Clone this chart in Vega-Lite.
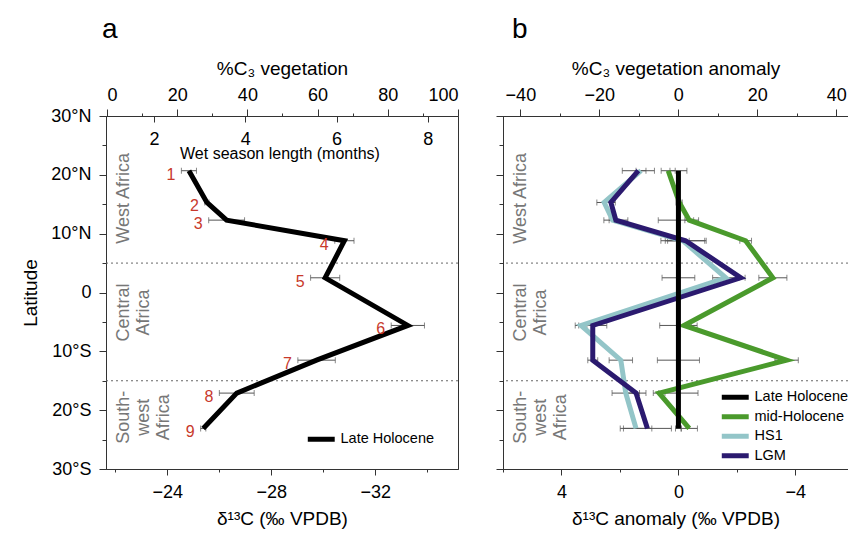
{
  "$schema": "https://vega.github.io/schema/vega-lite/v6.json",
  "padding": {"left": 21, "top": 15, "right": 0, "bottom": 0},
  "background": "white",
  "config": {
    "font": "Liberation Sans",
    "view": {"stroke": "#333", "strokeWidth": 1},
    "axis": {"domainColor": "#333", "tickColor": "#333", "labelColor": "#000", "labelFontSize": 18, "titleFontSize": 19, "titleFontWeight": "normal", "titleColor": "#000", "grid": false, "tickWidth": 1, "domainWidth": 1},
    "legend": {"labelFontSize": 14.5, "labelColor": "#000"}
  },
  "datasets": {
    "sites": [
      {"site": 1, "lat": 20.7, "d13C": -24.83, "err": 0.29},
      {"site": 2, "lat": 15.3, "d13C": -25.52, "err": 0.08},
      {"site": 3, "lat": 12.3, "d13C": -26.28, "err": 0.69},
      {"site": 4, "lat": 8.8, "d13C": -30.81, "err": 0.37},
      {"site": 5, "lat": 2.5, "d13C": -30.07, "err": 0.56},
      {"site": 6, "lat": -5.6, "d13C": -33.25, "err": 0.64},
      {"site": 7, "lat": -11.5, "d13C": -29.74, "err": 0.72},
      {"site": 8, "lat": -17.1, "d13C": -26.67, "err": 0.67},
      {"site": 9, "lat": -23.1, "d13C": -25.38, "err": 0.1}
    ],
    "anom": [
      {"series": "HS1", "site": 1, "lat": 20.7, "d": 1.28, "err": 0.17},
      {"series": "HS1", "site": 2, "lat": 15.3, "d": 2.54, "err": 0.25},
      {"series": "HS1", "site": 3, "lat": 12.3, "d": 2.25, "err": 0.12},
      {"series": "HS1", "site": 4, "lat": 8.8, "d": -0.15, "err": 0.75},
      {"series": "HS1", "site": 5, "lat": 2.5, "d": -1.62, "err": 0.45},
      {"series": "HS1", "site": 6, "lat": -5.6, "d": 3.33, "err": 0.2},
      {"series": "HS1", "site": 7, "lat": -11.5, "d": 1.97, "err": 0.4},
      {"series": "HS1", "site": 8, "lat": -17.1, "d": 1.8, "err": 0.47},
      {"series": "HS1", "site": 9, "lat": -23.1, "d": 1.45, "err": 0.54},
      {"series": "LGM", "site": 1, "lat": 20.7, "d": 1.37, "err": 0.55},
      {"series": "LGM", "site": 2, "lat": 15.3, "d": 2.31, "err": 0.15},
      {"series": "LGM", "site": 3, "lat": 12.3, "d": 2.14, "err": 0.41},
      {"series": "LGM", "site": 4, "lat": 8.8, "d": -0.25, "err": 0.7},
      {"series": "LGM", "site": 5, "lat": 2.5, "d": -2.13, "err": 0.15},
      {"series": "LGM", "site": 6, "lat": -5.6, "d": 2.93, "err": 0.48},
      {"series": "LGM", "site": 7, "lat": -11.5, "d": 2.93, "err": 0.17},
      {"series": "LGM", "site": 8, "lat": -17.1, "d": 1.45, "err": 0.34},
      {"series": "LGM", "site": 9, "lat": -23.1, "d": 1.06, "err": 0.82},
      {"series": "mid-Holocene", "site": 1, "lat": 20.7, "d": 0.35, "err": 0.24},
      {"series": "mid-Holocene", "site": 2, "lat": 15.3, "d": -0.03, "err": 0.1},
      {"series": "mid-Holocene", "site": 3, "lat": 12.3, "d": -0.37, "err": 0.15},
      {"series": "mid-Holocene", "site": 4, "lat": 8.8, "d": -2.3, "err": 0.2},
      {"series": "mid-Holocene", "site": 5, "lat": 2.5, "d": -3.23, "err": 0.48},
      {"series": "mid-Holocene", "site": 6, "lat": -5.6, "d": -0.19, "err": 0.25},
      {"series": "mid-Holocene", "site": 7, "lat": -11.5, "d": -3.7, "err": 0.4},
      {"series": "mid-Holocene", "site": 8, "lat": -17.1, "d": 0.66, "err": 0.2},
      {"series": "mid-Holocene", "site": 9, "lat": -23.1, "d": -0.37, "err": 0.28},
      {"series": "Late Holocene", "site": 1, "lat": 20.7, "d": 0, "err": 0.29},
      {"series": "Late Holocene", "site": 2, "lat": 15.3, "d": 0, "err": 0.08},
      {"series": "Late Holocene", "site": 3, "lat": 12.3, "d": 0, "err": 0.69},
      {"series": "Late Holocene", "site": 4, "lat": 8.8, "d": 0, "err": 0.37},
      {"series": "Late Holocene", "site": 5, "lat": 2.5, "d": 0, "err": 0.56},
      {"series": "Late Holocene", "site": 6, "lat": -5.6, "d": 0, "err": 0.64},
      {"series": "Late Holocene", "site": 7, "lat": -11.5, "d": 0, "err": 0.72},
      {"series": "Late Holocene", "site": 8, "lat": -17.1, "d": 0, "err": 0.67},
      {"series": "Late Holocene", "site": 9, "lat": -23.1, "d": 0, "err": 0.1}
    ],
    "bounds": [{"lat": 5}, {"lat": -15}],
    "regions": [
      {"label": ["West Africa"], "lat": 16.0},
      {"label": ["Central", "Africa"], "lat": -3.4},
      {"label": ["South-", "west", "Africa"], "lat": -21.2}
    ]
  },
  "spacing": 45,
  "bounds": "flush",
  "resolve": {"scale": {"color": "independent"}, "legend": {"color": "independent"}},
  "hconcat": [
    {
      "width": 352,
      "height": 353,
      "title": {"text": "a", "anchor": "start", "frame": "group", "fontSize": 28, "fontWeight": "normal", "dx": -4, "offset": 15},
      "resolve": {"scale": {"x": "independent"}, "axis": {"x": "independent", "y": "independent"}},
      "layer": [
        {
          "layer": [
            {
              "data": {"name": "bounds"},
              "mark": {"type": "rule", "strokeDash": [2, 3], "color": "#666", "strokeWidth": 1},
              "encoding": {
                "y": {"field": "lat", "type": "quantitative", "scale": {"domain": [-30, 30], "nice": false, "zero": false},
                  "axis": {"orient": "left", "title": "Latitude", "values": [-30, -20, -10, 0, 10, 20, 30], "labelExpr": "datum.value > 0 ? datum.value + '°N' : (datum.value < 0 ? (-datum.value) + '°S' : '0')", "tickSize": 7, "labelPadding": 8, "titlePadding": 10}}
              }
            },
            {
              "data": {"name": "sites"},
              "mark": {"type": "errorbar", "color": "#555", "ticks": {"size": 6, "thickness": 1, "color": "#555"}, "rule": {"strokeWidth": 1}},
              "encoding": {
                "x": {"field": "d13C", "type": "quantitative", "title": "δ¹³C (‰ VPDB)", "scale": {"domain": [-35.18, -21.64], "reverse": true, "nice": false, "zero": false},
                  "axis": {"orient": "bottom", "values": [-24, -28, -32], "tickSize": 6, "labelPadding": 8, "titlePadding": 8}},
                "xError": {"field": "err"},
                "y": {"field": "lat", "type": "quantitative"}
              }
            },
            {
              "data": {"name": "sites"},
              "mark": {"type": "line", "strokeWidth": 5, "strokeJoin": "miter", "strokeCap": "butt"},
              "encoding": {
                "x": {"field": "d13C", "type": "quantitative", "title": "δ¹³C (‰ VPDB)"},
                "y": {"field": "lat", "type": "quantitative"},
                "order": {"field": "site"},
                "color": {"datum": "Late Holocene", "scale": {"domain": ["Late Holocene"], "range": ["#000000"]},
                  "legend": {"title": null, "orient": "none", "legendX": 208, "legendY": 316, "symbolType": "M-3.6,0H3.6", "symbolSize": 56, "symbolStrokeWidth": 5, "labelOffset": 12}}
              }
            },
            {
              "data": {"name": "sites"},
              "transform": [
                {"fold": ["d13C", "err"], "as": ["part", "v"]},
                {"aggregate": [{"op": "sum", "field": "v", "as": "barLeft"}], "groupby": ["site", "lat"]}
              ],
              "mark": {"type": "text", "align": "right", "baseline": "middle", "dx": -6, "dy": 4, "fontSize": 16, "color": "#c8392b"},
              "encoding": {
                "x": {"field": "barLeft", "type": "quantitative", "title": "δ¹³C (‰ VPDB)"},
                "y": {"field": "lat", "type": "quantitative"},
                "text": {"field": "site"}
              }
            },
            {
              "data": {"name": "regions"},
              "mark": {"type": "text", "angle": 270, "align": "center", "baseline": "top", "fontSize": 18, "lineHeight": 20, "color": "#777"},
              "encoding": {
                "x": {"datum": -21.98, "type": "quantitative"},
                "y": {"field": "lat", "type": "quantitative"},
                "text": {"field": "label"}
              }
            }
          ]
        },
        {
          "data": {"name": "bounds"},
          "mark": {"type": "point", "opacity": 0},
          "encoding": {
            "x": {"datum": 50, "type": "quantitative", "scale": {"domain": [-0.28, 100], "nice": false, "zero": false},
              "axis": {"orient": "top", "title": "%C₃ vegetation", "values": [0, 20, 40, 60, 80, 100], "tickSize": 7, "labelPadding": 5, "titlePadding": 8}},
            "y": {"datum": 0, "type": "quantitative", "axis": null}
          }
        },
        {
          "data": {"name": "bounds"},
          "mark": {"type": "point", "opacity": 0},
          "encoding": {
            "x": {"datum": 50, "type": "quantitative", "scale": {"domain": [-0.28, 100], "nice": false, "zero": false},
              "axis": {"orient": "top", "title": null, "values": [10, 30, 50, 70, 90], "tickSize": 3, "labels": false, "domain": false}},
            "y": {"datum": 0, "type": "quantitative", "axis": null}
          }
        },
        {
          "data": {"name": "bounds"},
          "mark": {"type": "point", "opacity": 0},
          "encoding": {
            "x": {"datum": -28, "type": "quantitative", "scale": {"domain": [-35.18, -21.64], "reverse": true, "nice": false, "zero": false},
              "axis": {"orient": "bottom", "title": null, "values": [-22, -26, -30, -34], "tickSize": 3, "labels": false, "domain": false}},
            "y": {"datum": 0, "type": "quantitative",
              "axis": {"orient": "left", "title": null, "values": [-25, -15, -5, 5, 15, 25], "tickSize": 4, "labels": false, "domain": false}}
          }
        },
        {
          "data": {"name": "bounds"},
          "transform": [{"filter": "datum.lat > 0"}],
          "mark": {"type": "text", "fontSize": 16, "align": "center", "baseline": "middle", "color": "#000"},
          "encoding": {
            "x": {"datum": 4.76, "type": "quantitative", "scale": {"domain": [0.949, 8.66], "nice": false, "zero": false},
              "axis": {"orient": "top", "title": null, "values": [2, 4, 6, 8], "tickSize": -6, "labelPadding": -26, "domain": false}},
            "y": {"datum": 23.6, "type": "quantitative", "axis": null},
            "text": {"value": "Wet season length (months)"}
          }
        }
      ]
    },
    {
      "width": 345,
      "height": 353,
      "title": {"text": "b", "anchor": "start", "frame": "group", "fontSize": 28, "fontWeight": "normal", "dx": 9, "offset": 15},
      "resolve": {"scale": {"x": "independent"}, "axis": {"x": "independent", "y": "independent"}},
      "layer": [
        {
          "layer": [
            {
              "data": {"name": "bounds"},
              "mark": {"type": "rule", "strokeDash": [2, 3], "color": "#666", "strokeWidth": 1},
              "encoding": {
                "y": {"field": "lat", "type": "quantitative", "scale": {"domain": [-30, 30], "nice": false, "zero": false},
                  "axis": {"orient": "left", "title": null, "values": [-30, -20, -10, 0, 10, 20, 30], "labels": false, "tickSize": 7}}
              }
            },
            {
              "data": {"name": "anom"},
              "mark": {"type": "errorbar", "color": "#555", "ticks": {"size": 6, "thickness": 1, "color": "#555"}, "rule": {"strokeWidth": 1}},
              "encoding": {
                "x": {"field": "d", "type": "quantitative", "title": "δ¹³C anomaly (‰ VPDB)", "scale": {"domain": [-5.8, 6], "reverse": true, "nice": false, "zero": false},
                  "axis": {"orient": "bottom", "values": [4, 0, -4], "tickSize": 6, "labelPadding": 8, "titlePadding": 8}},
                "xError": {"field": "err"},
                "y": {"field": "lat", "type": "quantitative"},
                "detail": {"field": "series"}
              }
            },
            {
              "data": {"name": "anom"},
              "mark": {"type": "line", "strokeWidth": 5, "strokeJoin": "miter", "strokeCap": "butt"},
              "encoding": {
                "x": {"field": "d", "type": "quantitative", "title": "δ¹³C anomaly (‰ VPDB)"},
                "y": {"field": "lat", "type": "quantitative"},
                "order": {"field": "site"},
                "color": {"field": "series", "type": "nominal",
                  "scale": {"domain": ["Late Holocene", "mid-Holocene", "HS1", "LGM"], "range": ["#000000", "#4a9a2c", "#93c5c8", "#2b1a6f"]},
                  "legend": {"title": null, "orient": "none", "legendX": 225, "legendY": 274, "symbolType": "M-3.6,0H3.6", "symbolSize": 56, "symbolStrokeWidth": 5, "labelOffset": 12, "rowPadding": -1.5}}
              }
            },
            {
              "data": {"name": "regions"},
              "mark": {"type": "text", "angle": 270, "align": "center", "baseline": "top", "fontSize": 18, "lineHeight": 20, "color": "#777"},
              "encoding": {
                "x": {"datum": 5.68, "type": "quantitative"},
                "y": {"field": "lat", "type": "quantitative"},
                "text": {"field": "label"}
              }
            }
          ]
        },
        {
          "data": {"name": "bounds"},
          "mark": {"type": "point", "opacity": 0},
          "encoding": {
            "x": {"datum": 0, "type": "quantitative", "scale": {"domain": [-44.4, 43.0], "nice": false, "zero": false},
              "axis": {"orient": "top", "title": "%C₃ vegetation anomaly", "values": [-40, -20, 0, 20, 40], "tickSize": 7, "labelPadding": 5, "titlePadding": 8}},
            "y": {"datum": 0, "type": "quantitative", "axis": null}
          }
        },
        {
          "data": {"name": "bounds"},
          "mark": {"type": "point", "opacity": 0},
          "encoding": {
            "x": {"datum": 0, "type": "quantitative", "scale": {"domain": [-44.4, 43.0], "nice": false, "zero": false},
              "axis": {"orient": "top", "title": null, "values": [-30, -10, 10, 30], "tickSize": 3, "labels": false, "domain": false}},
            "y": {"datum": 0, "type": "quantitative", "axis": null}
          }
        },
        {
          "data": {"name": "bounds"},
          "mark": {"type": "point", "opacity": 0},
          "encoding": {
            "x": {"datum": 0, "type": "quantitative", "scale": {"domain": [-5.8, 6], "reverse": true, "nice": false, "zero": false},
              "axis": {"orient": "bottom", "title": null, "values": [6, 2, -2], "tickSize": 3, "labels": false, "domain": false}},
            "y": {"datum": 0, "type": "quantitative",
              "axis": {"orient": "left", "title": null, "values": [-25, -15, -5, 5, 15, 25], "tickSize": 4, "labels": false, "domain": false}}
          }
        }
      ]
    }
  ]
}
